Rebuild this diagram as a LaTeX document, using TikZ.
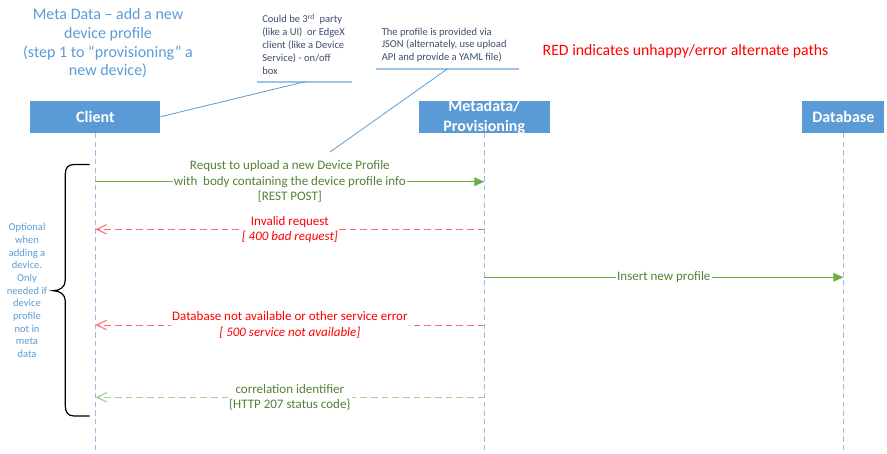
\documentclass[tikz,border=0pt]{standalone}
\usepackage{fontspec}
\setmainfont{Carlito}
\usetikzlibrary{arrows.meta}
\definecolor{boxblue}{HTML}{5B9BD5}
\definecolor{lifeblue}{HTML}{9BBFE6}
\definecolor{msggreen}{HTML}{70AD47}
\definecolor{textgreen}{HTML}{548235}
\definecolor{retgreen}{HTML}{A9D18E}
\definecolor{errred}{HTML}{FF6A6A}
\definecolor{notetext}{HTML}{3B4E6B}
\definecolor{noteline}{HTML}{9DC3E6}
\begin{document}
\begin{tikzpicture}[x=0.75pt,y=-0.75pt,
  actor/.style={fill=boxblue, draw=none, minimum height=24pt, inner sep=0},
  actortxt/.style={text=white, font=\fontsize{12}{15}\selectfont\bfseries, align=center, inner sep=0},
  life/.style={draw=lifeblue, line width=0.8pt, dash pattern=on 4pt off 2.5pt},
  msg/.style={draw=msggreen, line width=0.9pt, -{Triangle[length=7.5pt,width=6.5pt]}},
  err/.style={draw=errred, line width=0.75pt, dash pattern=on 5pt off 3pt, -{Straight Barb[length=7.5pt,width=7pt]}},
  ret/.style={draw=retgreen, line width=0.9pt, dash pattern=on 5pt off 3pt, -{Straight Barb[length=7.5pt,width=7pt]}},
  lbl/.style={fill=white, inner sep=1pt, align=center, font=\fontsize{9.75}{11.6}\selectfont, text=textgreen},
  errlbl/.style={lbl, text=red},
  notetxt/.style={align=left, inner sep=0, text=notetext, font=\fontsize{7.9}{9.6}\selectfont},
  uline/.style={draw=noteline, line width=1.2pt},
  callout/.style={draw=boxblue, line width=0.6pt},
  brace/.style={draw=black, line width=0.9pt}
]
\useasboundingbox (0,0) rectangle (887,453);

% title
\node[align=center, text=boxblue, font=\fontsize{12}{14}\selectfont] (title) at (108,43.5)
  {Meta Data – add a new\\device profile\\(step 1 to “provisioning” a\\new device)};

% notes
\node[notetxt, anchor=west] (note1) at (262,44)
  {Could be 3\textsuperscript{rd}\ \ party\\(like a UI)\ \ or EdgeX\\client (like a Device\\Service) - on/off\\box};
\node[notetxt, anchor=west] (note2) at (381.5,45)
  {The profile is provided via\\JSON (alternately, use upload\\API and provide a YAML file)};
\coordinate (n1a) at (256.7,81.7);
\coordinate (n1b) at (352.3,81.7);
\coordinate (n1c) at (305,81.7);
\coordinate (n2a) at (376,69);
\coordinate (n2b) at (519.3,69);
\coordinate (n2c) at (447.3,69);
\coordinate (n2e) at (330,152);
\draw[uline] (n1a) -- (n1b);
\draw[uline] (n2a) -- (n2b);

\node[text=red, font=\fontsize{11.85}{13}\selectfont, inner sep=0] (redinfo) at (685.5,51.5)
  {RED indicates unhappy/error alternate paths};

% actors
\node[actor, minimum width=97.5pt] (client) at (95.4,116.7) {};
\node[actortxt] (clienttxt) at (client.center) {Client};
\node[actor, minimum width=98.6pt] (md) at (484.3,116.7) {};
\node[actortxt] (mdtxt) at (484.3,117) {Metadata/\\Provisioning};
\node[actor, minimum width=61.5pt] (db) at (843.3,116.7) {};
\node[actortxt] (dbtxt) at (db.center) {Database};

\draw[callout] (n1c) -- (client.east);
\draw[callout] (n2c) -- (n2e);

% lifelines
\coordinate (clientEnd) at (95.4,453);
\coordinate (mdEnd) at (484.3,453);
\coordinate (dbEnd) at (843.3,453);
\draw[life] (client.south) -- (clientEnd);
\draw[life] (md.south) -- (mdEnd);
\draw[life] (db.south) -- (dbEnd);

% message anchor points
\coordinate (c1) at (95.4,181.7);  \coordinate (m1) at (484.3,181.7);
\coordinate (c2) at (95.4,229.3);  \coordinate (m2) at (484.3,229.3);
\coordinate (m3) at (484.3,277.3); \coordinate (d3) at (843.3,277.3);
\coordinate (c4) at (95.4,325);    \coordinate (m4) at (484.3,325);
\coordinate (c5) at (95.4,397.3);  \coordinate (m5) at (484.3,397.3);

\draw[msg] (c1) -- node[lbl] {Requst to upload a new Device Profile\\with\ \ body containing the device profile info\\{[}REST POST{]}} (m1);
\draw[err] (m2) -- node[errlbl] {Invalid request\\\textit{{[} 400 bad request{]}}} (c2);
\draw[msg] (m3) -- node[lbl] {Insert new profile} (d3);
\draw[err] (m4) -- node[errlbl] {Database not available or other service error\\\textit{{[} 500 service not available{]}}} (c4);
\draw[ret] (m5) -- node[lbl] {correlation identifier\\\{HTTP 207 status code\}} (c5);

% brace
\coordinate (bt) at (89.5,164.5);
\coordinate (bm) at (53,290.7);
\coordinate (bb) at (89.5,416);
\draw[brace] (bt) -- (74,164.5) .. controls (68,164.5) and (65.3,168) .. (65.3,174) -- (65.3,280)
  .. controls (65.3,287) and (60,290.7) .. (bm)
  .. controls (60,290.7) and (65.3,294.5) .. (65.3,301) -- (65.3,406)
  .. controls (65.3,412) and (68,416) .. (74,416) -- (bb);
\node[align=center, text=boxblue, inner sep=0, font=\fontsize{7.9}{9.5}\selectfont] (optional) at (27,290.5)
  {Optional\\when\\adding a\\device.\\Only\\needed if\\device\\profile\\not in\\meta\\data};
\end{tikzpicture}
\end{document}
